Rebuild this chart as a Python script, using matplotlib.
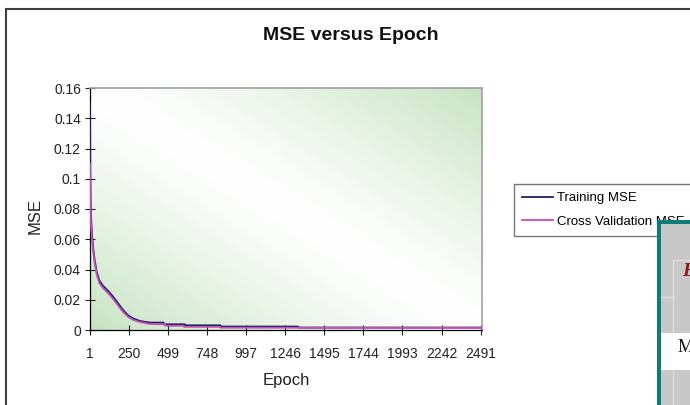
import matplotlib
matplotlib.use("Agg")
import matplotlib.pyplot as plt
import numpy as np
from matplotlib.patches import Rectangle
from matplotlib.lines import Line2D

plt.rcParams['font.family'] = ['Liberation Sans', 'DejaVu Sans']

# values
train_epoch = [1, 3, 5, 9, 14, 22, 31, 44, 61, 83, 115, 147, 179, 211, 243, 276,
               319, 362, 382, 470, 471, 604, 605, 833, 834, 1328, 1329, 2500]
train_mse = [0.150, 0.105, 0.085, 0.072, 0.0627, 0.0538, 0.046, 0.0382, 0.0327,
             0.0293, 0.026, 0.0222, 0.0178, 0.0133, 0.0098, 0.0076, 0.006, 0.0052,
             0.0049, 0.0049, 0.0038, 0.0038, 0.0031, 0.0031, 0.0023, 0.0023,
             0.0016, 0.0016]

cv_epoch = [1, 3, 5, 8, 14, 22, 31, 44, 61, 83, 115, 147, 179, 211, 243, 276,
            319, 362, 380, 480, 481, 600, 601, 830, 831, 2500]
cv_mse = [0.110, 0.092, 0.080, 0.068, 0.060, 0.0515, 0.0443, 0.0365, 0.031,
          0.0278, 0.0245, 0.0207, 0.0163, 0.012, 0.0088, 0.0067, 0.0053, 0.0044,
          0.0040, 0.0038, 0.0028, 0.0028, 0.0021, 0.0021, 0.0015, 0.0015]

x_ticks = [1, 250, 499, 748, 997, 1246, 1495, 1744, 1993, 2242, 2491]
y_ticks = [0, 0.02, 0.04, 0.06, 0.08, 0.1, 0.12, 0.14, 0.16]
y_labels = ['0', '0.02', '0.04', '0.06', '0.08', '0.1', '0.12', '0.14', '0.16']

W, H = 690, 405


def fx(x):
    return x / W


def fy(y):
    return 1 - y / H


fig = plt.figure(figsize=(6.9, 4.05), dpi=100)
ax = fig.add_axes([fx(90), fy(330), fx(482) - fx(90), fy(88) - fy(330)])

# diagonal green/white gradient of the plot area
u, v = np.meshgrid(np.linspace(0, 1, 300), np.linspace(0, 1, 200))
t = np.abs(u + v - 1) ** 1.3
green = np.array([0.78, 0.89, 0.76])
img = 1 - t[..., None] * (1 - green)
ax.imshow(img, extent=(0, 1, 0, 1), transform=ax.transAxes, aspect='auto',
          origin='lower', zorder=0)

ax.plot(train_epoch, train_mse, color='#1e1e6e', lw=1.3, label='Training MSE', zorder=3)
ax.plot(cv_epoch, cv_mse, color='#c64db2', lw=1.3, label='Cross Validation MSE', zorder=4)

ax.set_xlim(1, 2500)
ax.set_ylim(0, 0.16)
ax.set_xticks(x_ticks)
ax.set_xticklabels([str(x) for x in x_ticks])
ax.set_yticks(y_ticks)
ax.set_yticklabels(y_labels)
ax.tick_params(direction='inout', length=7, width=0.8, labelsize=10,
               colors='#222222', pad=3)
ax.tick_params(axis='x', pad=8.5)

for s in ['left', 'bottom']:
    ax.spines[s].set_color('black')
    ax.spines[s].set_linewidth(0.9)
for s in ['top', 'right']:
    ax.spines[s].set_color('#a0a0a0')
    ax.spines[s].set_linewidth(1.2)

fig.text(fx(351), fy(36), 'MSE versus Epoch', ha='center', va='center',
         fontsize=14, fontweight='bold', color='#111111')
fig.text(fx(286), fy(380), 'Epoch', ha='center', va='center', fontsize=12,
         color='#222222')
fig.text(fx(35), fy(216), 'MSE', ha='center', va='center', rotation=90,
         fontsize=12, color='#222222')

leg = fig.legend(loc='upper left',
                 bbox_to_anchor=(fx(514), fy(234), fx(720) - fx(514), fy(184) - fy(234)),
                 mode='expand', fontsize=9.5, frameon=True, fancybox=False,
                 borderaxespad=0, handlelength=2.35, handletextpad=0.3,
                 labelspacing=0.85, borderpad=0.6)
leg.get_frame().set_edgecolor('#555555')
leg.get_frame().set_linewidth(1.0)
leg.set_zorder(5)

# outer chart border
fig.add_artist(Line2D([fx(6), fx(6)], [fy(9), 0], color='#404040', lw=1.5,
                      transform=fig.transFigure, zorder=6))
fig.add_artist(Line2D([fx(6), 1], [fy(9), fy(9)], color='#404040', lw=1.5,
                      transform=fig.transFigure, zorder=6))


# overlapping table window at lower right
def rect(x0, y0, x1, y1, color):
    fig.add_artist(Rectangle((fx(x0), fy(y1)), fx(x1) - fx(x0), fy(y0) - fy(y1),
                             facecolor=color, edgecolor='none',
                             transform=fig.transFigure, zorder=10))


def seg(x0, y0, x1, y1, color='#e2e2e2'):
    fig.add_artist(Line2D([fx(x0), fx(x1)], [fy(y0), fy(y1)], color=color, lw=0.9,
                          transform=fig.transFigure, zorder=11))


rect(657, 220, 690, 405, '#c8c8c8')
rect(661, 333, 690, 370, 'white')
seg(673, 260, 673, 333)
seg(673, 370, 673, 405)
seg(673, 260, 690, 260)
seg(661, 297, 673, 297)
rect(657, 220, 661, 405, '#0e7c78')
rect(657, 220, 690, 224, '#0e7c78')
fig.text(fx(682), fy(272), 'E', ha='left', va='center', fontsize=14,
         fontweight='bold', style='italic', color='#8b1a1a',
         family=['Liberation Serif', 'DejaVu Serif'], zorder=12)
fig.text(fx(678), fy(347), 'M', ha='left', va='center', fontsize=13,
         color='#111111', family=['Liberation Serif', 'DejaVu Serif'], zorder=12)

fig.savefig('out.png', dpi=100)
